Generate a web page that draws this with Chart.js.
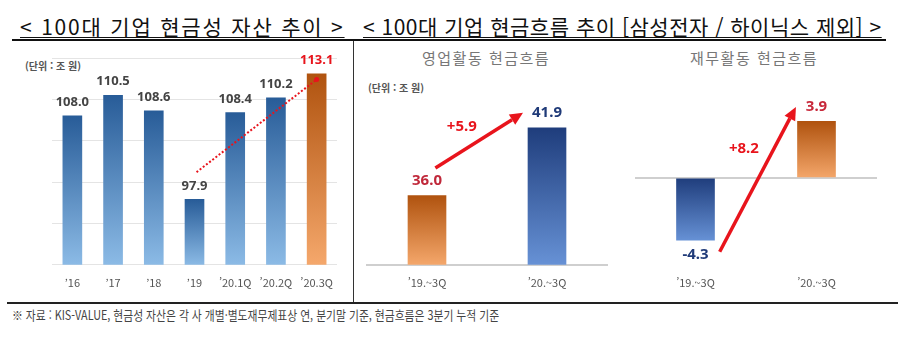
<!DOCTYPE html>
<html lang="ko">
  <head>
    <meta charset="UTF-8" />
    <title>100대 기업 현금성 자산 / 현금흐름 추이</title>
    <script src="https://cdn.jsdelivr.net/npm/chart.js@4.4.1/dist/chart.umd.min.js"></script>
    <style>
      body {
        margin: 0;
        width: 900px;
        height: 351px;
        position: relative;
        overflow: hidden;
        background: #fff;
        font-family: 'Noto Sans CJK KR', sans-serif;
      }
      .abs { position: absolute; }
      .title {
        font-size: 21px;
        line-height: 24px;
        color: #111;
        text-decoration: underline;
        text-decoration-thickness: 1px;
        text-underline-offset: 2px;
        white-space: nowrap;
      }
      .subtitle { font-size: 15px; color: #777; letter-spacing: 1.5px; white-space: nowrap; }
      .unit { font-size: 10px; color: #555; font-weight: bold; white-space: nowrap; }
      .box { position: absolute; }
    </style>
  </head>
  <body>
    <div class="abs title" style="left: 20px; top: 14px; letter-spacing: 1.8px">&lt; 100대 기업 현금성 자산 추이 &gt;</div>
    <div class="abs title" style="left: 363px; top: 14px; letter-spacing: 0.5px">&lt; 100대 기업 현금흐름 추이 [삼성전자 / 하이닉스 제외] &gt;</div>
    <div class="abs" style="left: 12px; top: 39px; width: 874px; height: 2px; background: #111"></div>
    <div class="abs" style="left: 353px; top: 41px; width: 1px; height: 262px; background: #333"></div>
    <div class="abs" style="left: 7px; top: 302px; width: 891px; height: 2px; background: #222"></div>

    <div class="abs subtitle" style="left: 422px; top: 47px">영업활동 현금흐름</div>
    <div class="abs subtitle" style="left: 690px; top: 47px">재무활동 현금흐름</div>
    <div class="abs unit" style="left: 25px; top: 58px">(단위 : 조 원)</div>
    <div class="abs unit" style="left: 368px; top: 80px">(단위 : 조 원)</div>

    <div class="box" style="left: 0px; top: 42px; width: 352px; height: 260px">
      <canvas id="cash-assets"></canvas>
    </div>
    <div class="box" style="left: 355px; top: 42px; width: 265px; height: 260px">
      <canvas id="operating-flow"></canvas>
    </div>
    <div class="box" style="left: 625px; top: 42px; width: 275px; height: 260px">
      <canvas id="financing-flow"></canvas>
    </div>

    <div class="abs" style="left: 12px; top: 305px; font-size: 13px; color: #444; white-space: nowrap; transform: scaleX(0.83); transform-origin: left top">
      ※ 자료 : KIS-VALUE, 현금성 자산은 각 사 개별·별도재무제표상 연, 분기말 기준, 현금흐름은 3분기 누적 기준
    </div>

    <script>
      // data
      const assetLabels = ['’16', '’17', '’18', '’19', '’20.1Q', '’20.2Q', '’20.3Q'];
      const assetValues = [108.0, 110.5, 108.6, 97.9, 108.4, 110.2, 113.1];
      const flowLabels = ['’19.~3Q', '’20.~3Q'];
      const operatingValues = [36.0, 41.9];
      const financingValues = [-4.3, 3.9];
      const operatingChange = '+5.9';
      const financingChange = '+8.2';

      // annotation anchors in data space: [category index, value]
      const assetTrend = [[3.05, 101.2], [6, 112.4]];
      const operatingArrow = [[0.07, 38.4], [0.8, 43.2], [0.29, 42.0]];
      const financingArrow = [[0.2, -5.1], [0.83, 4.9], [0.4, 2.0]];

      const blue = ['#285c98', '#8cbbe6'];
      const navy = ['#1f3d7c', '#6792d6'];
      const orange = ['#b0530f', '#f5a86c'];
      const red = '#e8141c';
      const font = "'Noto Sans CJK KR', sans-serif";

      function barGradient(colorsFor) {
        return (context) => {
          const chart = context.chart;
          const [top, bottom] = colorsFor(context.dataIndex);
          if (!chart.chartArea || context.type !== 'data') return bottom;
          const y = chart.scales.y;
          const p1 = y.getPixelForValue(context.parsed.y);
          const p0 = y.getBasePixel();
          const g = chart.ctx.createLinearGradient(0, Math.min(p0, p1), 0, Math.max(p0, p1) + 1);
          g.addColorStop(0, top);
          g.addColorStop(1, bottom);
          return g;
        };
      }

      const valueLabels = {
        id: 'valueLabels',
        afterDatasetsDraw(chart, args, opts) {
          const { ctx } = chart;
          const meta = chart.getDatasetMeta(0);
          const values = chart.data.datasets[0].data;
          ctx.save();
          ctx.font = opts.font;
          ctx.textAlign = 'center';
          meta.data.forEach((bar, i) => {
            ctx.fillStyle = opts.colors[i];
            if (values[i] >= 0) {
              ctx.textBaseline = 'bottom';
              ctx.fillText(values[i].toFixed(1), bar.x, bar.y - opts.gap);
            } else {
              ctx.textBaseline = 'top';
              ctx.fillText(values[i].toFixed(1), bar.x, bar.y + opts.gap);
            }
          });
          ctx.restore();
        }
      };

      const trendMarks = {
        id: 'trendMarks',
        afterDatasetsDraw(chart, args, opts) {
          if (!opts.points) return;
          const { ctx, scales: { x, y } } = chart;
          const [a, b, lbl] = opts.points;
          const x1 = x.getPixelForValue(a[0]), y1 = y.getPixelForValue(a[1]);
          const x2 = x.getPixelForValue(b[0]), y2 = y.getPixelForValue(b[1]);
          ctx.save();
          ctx.strokeStyle = opts.color;
          ctx.fillStyle = opts.color;
          ctx.lineWidth = opts.width;
          if (opts.dotted) {
            ctx.setLineDash([2, 2]);
            ctx.beginPath();
            ctx.moveTo(x1, y1);
            ctx.lineTo(x2, y2);
            ctx.stroke();
            ctx.setLineDash([]);
            ctx.beginPath();
            ctx.arc(x2, y2, 2.5, 0, Math.PI * 2);
            ctx.fill();
          } else {
            const ang = Math.atan2(y2 - y1, x2 - x1);
            const head = 13;
            const bx = x2 - head * Math.cos(ang), by = y2 - head * Math.sin(ang);
            ctx.beginPath();
            ctx.moveTo(x1, y1);
            ctx.lineTo(bx, by);
            ctx.stroke();
            ctx.beginPath();
            ctx.moveTo(x2, y2);
            ctx.lineTo(bx + 6 * Math.sin(ang), by - 6 * Math.cos(ang));
            ctx.lineTo(bx - 6 * Math.sin(ang), by + 6 * Math.cos(ang));
            ctx.closePath();
            ctx.fill();
          }
          if (lbl) {
            ctx.font = opts.font;
            ctx.textAlign = 'center';
            ctx.textBaseline = 'middle';
            ctx.fillText(opts.text, x.getPixelForValue(lbl[0]), y.getPixelForValue(lbl[1]));
          }
          ctx.restore();
        }
      };

      const xAxis = {
        grid: { display: false, drawTicks: false },
        border: { display: false },
        ticks: { color: '#555', font: { family: font, size: 11 }, padding: 11 }
      };

      new Chart(document.getElementById('cash-assets'), {
        type: 'bar',
        data: {
          labels: assetLabels,
          datasets: [
            {
              data: assetValues,
              barThickness: 19,
              backgroundColor: barGradient((i) => (i === assetValues.length - 1 ? orange : blue))
            }
          ]
        },
        plugins: [valueLabels, trendMarks],
        options: {
          responsive: true,
          maintainAspectRatio: false,
          animation: false,
          layout: { padding: { left: 52, right: 15, top: 16, bottom: 2 } },
          plugins: {
            legend: { display: false },
            tooltip: { enabled: false },
            valueLabels: {
              font: "bold 13px 'Noto Sans', sans-serif",
              gap: 7,
              colors: ['#444', '#444', '#444', '#444', '#444', '#444', red]
            },
            trendMarks: { points: assetTrend, color: red, width: 2, dotted: true }
          },
          scales: {
            x: xAxis,
            y: {
              min: 90,
              max: 115,
              ticks: { display: false, stepSize: 5 },
              border: { display: false },
              grid: { color: '#e4e4e4', drawTicks: false }
            }
          }
        }
      });

      new Chart(document.getElementById('operating-flow'), {
        type: 'bar',
        data: {
          labels: flowLabels,
          datasets: [
            {
              data: operatingValues,
              barThickness: 38,
              backgroundColor: barGradient((i) => (i === 0 ? orange : navy))
            }
          ]
        },
        plugins: [valueLabels, trendMarks],
        options: {
          responsive: true,
          maintainAspectRatio: false,
          animation: false,
          layout: { padding: { left: 12, right: 13, top: 50, bottom: 2 } },
          plugins: {
            legend: { display: false },
            tooltip: { enabled: false },
            valueLabels: {
              font: "bold 15px 'Noto Sans', sans-serif",
              gap: 7,
              colors: ['#c0283a', '#1f3a78']
            },
            trendMarks: {
              points: operatingArrow,
              color: red,
              width: 3.5,
              text: operatingChange,
              font: "bold 15px 'Noto Sans', sans-serif"
            }
          },
          scales: {
            x: { ...xAxis, border: { display: true, color: '#cfcfcf', width: 2 } },
            y: { display: false, min: 30, max: 45 }
          }
        }
      });

      new Chart(document.getElementById('financing-flow'), {
        type: 'bar',
        data: {
          labels: flowLabels,
          datasets: [
            {
              data: financingValues,
              barThickness: 38,
              backgroundColor: barGradient((i) => (i === 0 ? navy : orange))
            }
          ]
        },
        plugins: [valueLabels, trendMarks],
        options: {
          responsive: true,
          maintainAspectRatio: false,
          animation: false,
          layout: { padding: { left: 10, right: 23, top: 49, bottom: 2 } },
          plugins: {
            legend: { display: false },
            tooltip: { enabled: false },
            valueLabels: {
              font: "bold 15px 'Noto Sans', sans-serif",
              gap: 7,
              colors: ['#1f3a78', '#c8283a']
            },
            trendMarks: {
              points: financingArrow,
              color: red,
              width: 3.5,
              text: financingChange,
              font: "bold 15px 'Noto Sans', sans-serif"
            }
          },
          scales: {
            x: xAxis,
            y: {
              min: -6,
              max: 6,
              ticks: { display: false, stepSize: 6 },
              border: { display: false },
              grid: {
                drawTicks: false,
                lineWidth: 2,
                color: (c) => (c.tick && c.tick.value === 0 ? '#cfcfcf' : 'rgba(0,0,0,0)')
              }
            }
          }
        }
      });
    </script>
  </body>
</html>
